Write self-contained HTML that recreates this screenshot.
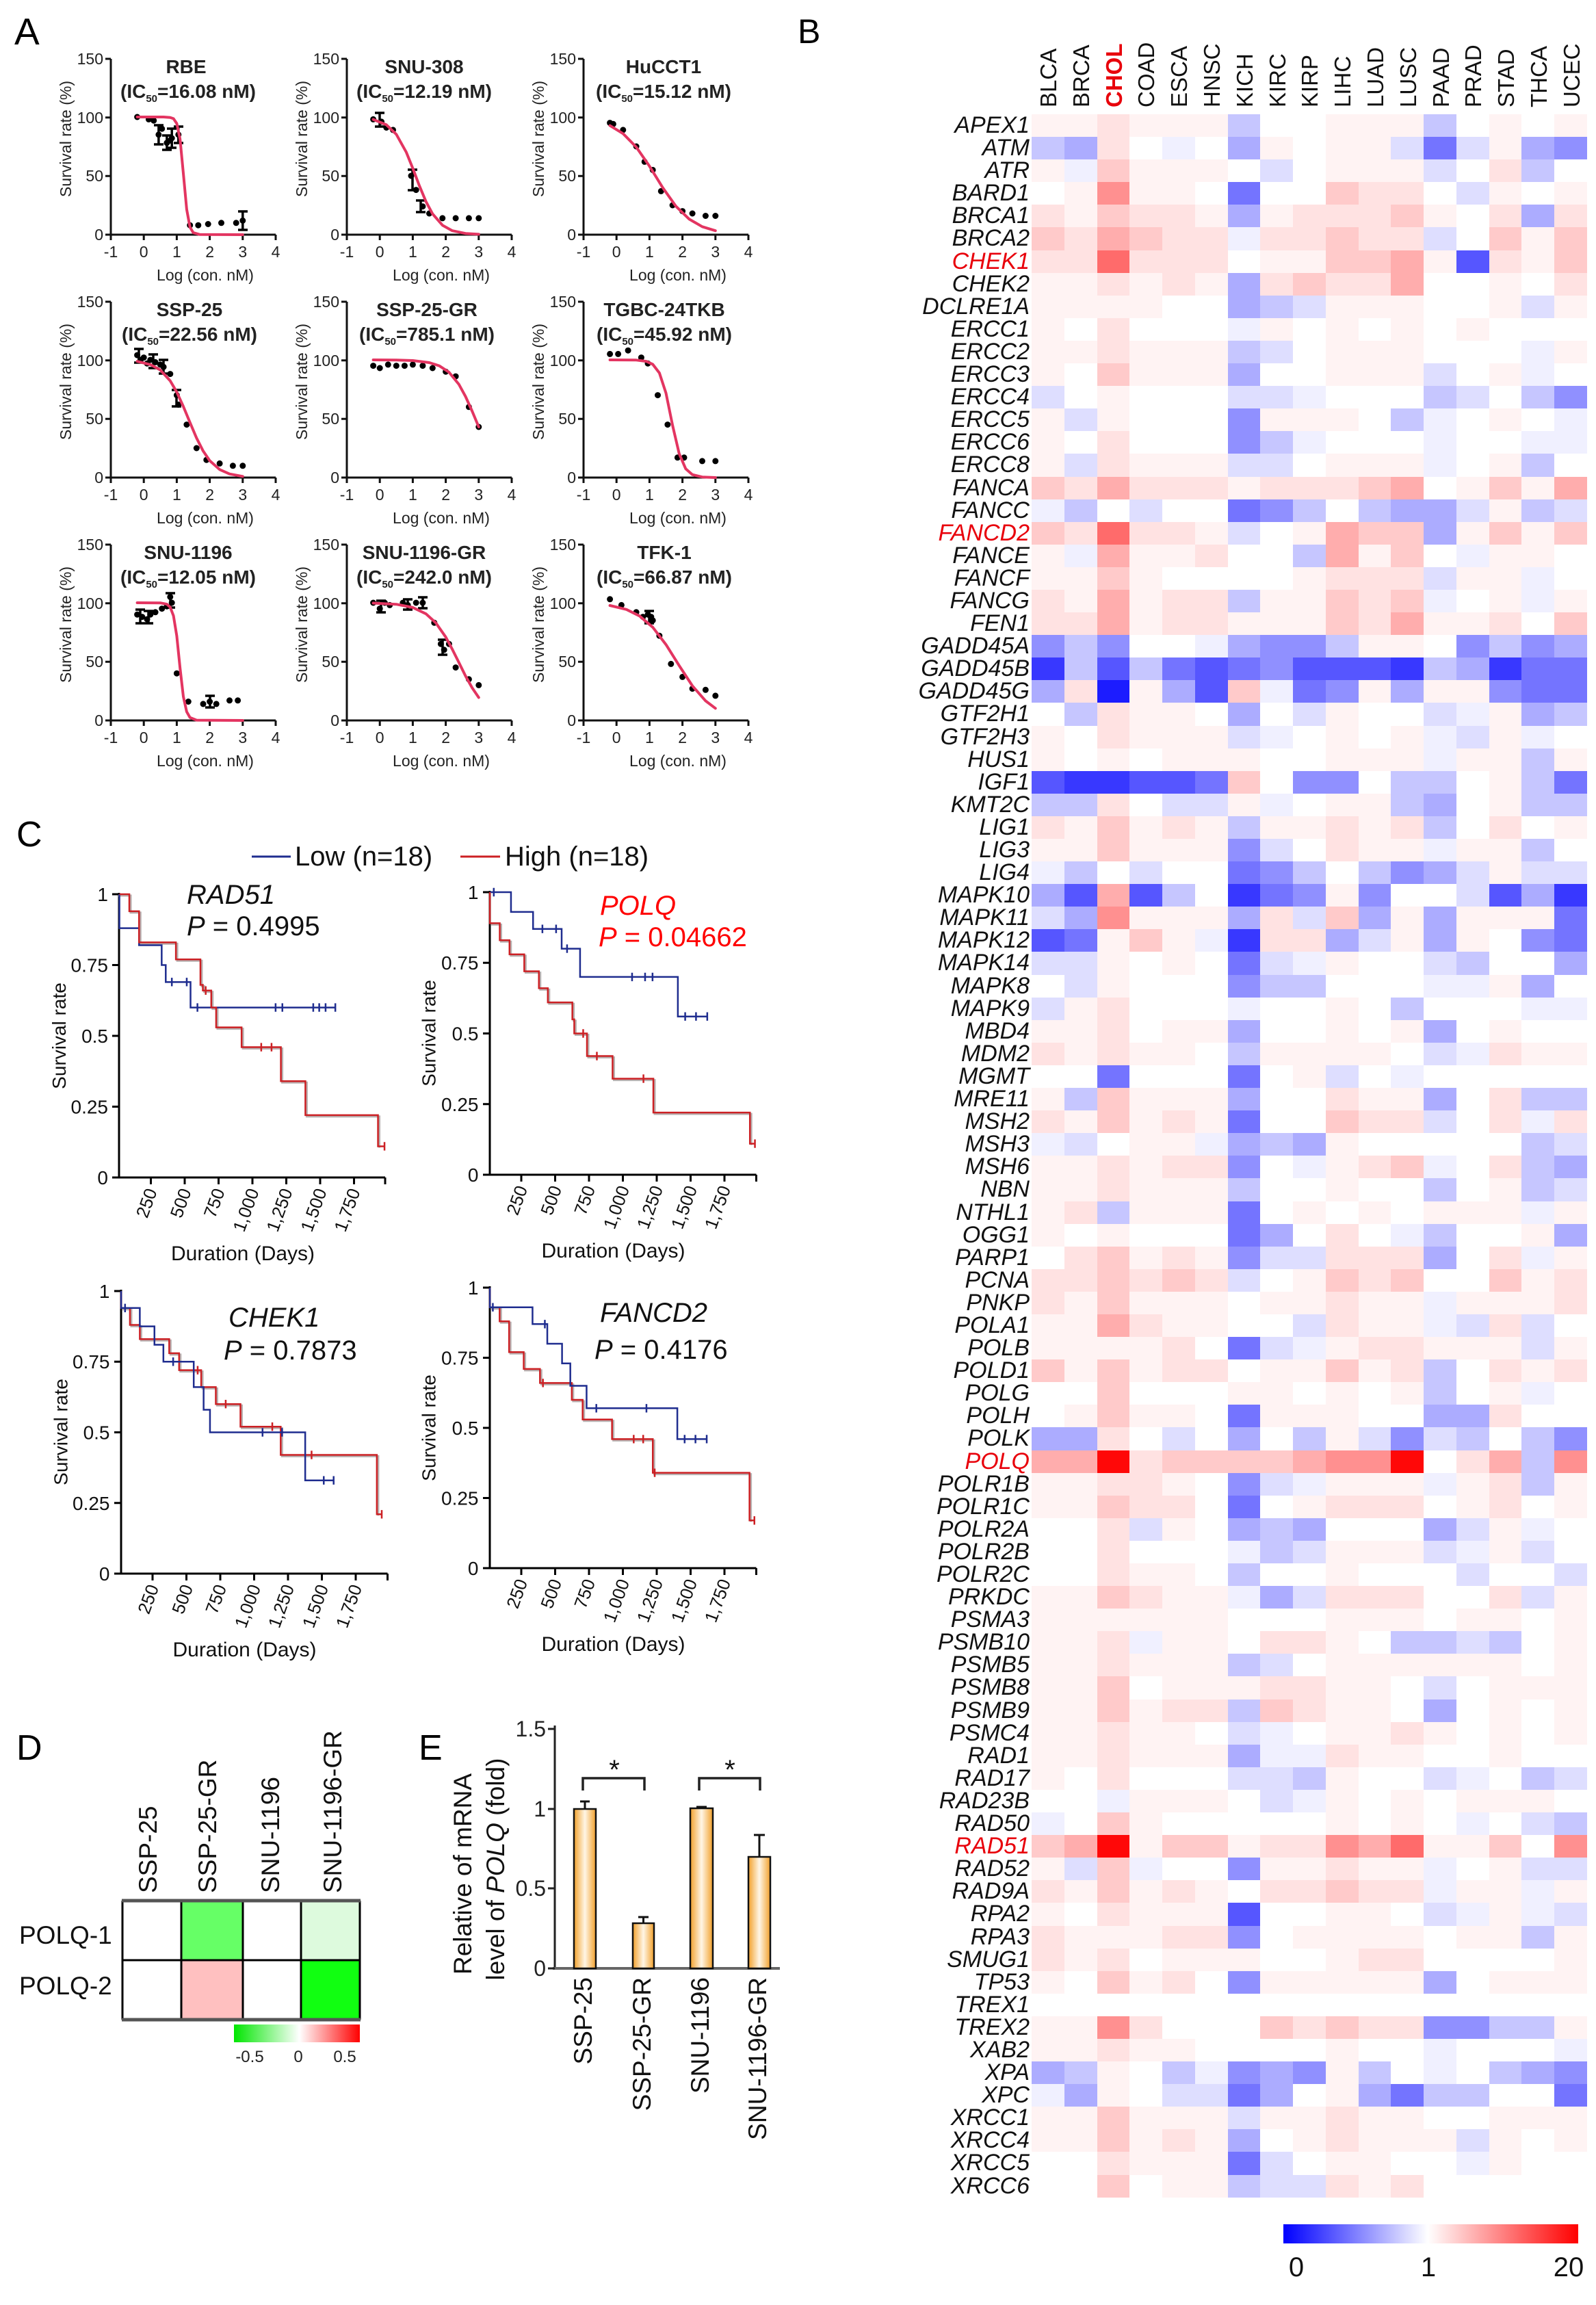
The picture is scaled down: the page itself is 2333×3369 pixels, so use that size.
<!DOCTYPE html>
<html><head><meta charset="utf-8"><style>
html,body{margin:0;padding:0;background:#fff}
body{width:2333px;height:3369px;position:relative;overflow:hidden;font-family:"Liberation Sans",Arial,sans-serif}
svg{position:absolute;left:0;top:0}
svg text{font-family:"Liberation Sans",Arial,sans-serif}
.ax{fill:none;stroke:#000;stroke-width:3}
.axA{fill:none;stroke:#111;stroke-width:3}
.tl{font-size:23px;fill:#222}
.tt{font-size:28px;font-weight:bold;fill:#222}
.cv{fill:none;stroke:#e33561;stroke-width:4;stroke-linejoin:round;stroke-linecap:round}
.dt{fill:none;stroke:#000;stroke-width:9;stroke-linecap:round}
.eb{fill:none;stroke:#000;stroke-width:3.5}
.km path{fill:none;vector-effect:non-scaling-stroke;stroke-width:2.5}
.km .bl{stroke:#1f2d8f}.km .rd{stroke:#cc2024}.km .sh{stroke:#b8b0b0;stroke-width:3}
.kt{font-size:28px;fill:#111}
.kx{font-size:26px;fill:#111}
#hm{position:absolute;left:1508px;top:167px;width:812px;height:3045px;border-collapse:collapse;table-layout:fixed;border-spacing:0}
#hm td{padding:0;border:0}
#hm tr{height:33.1px}
td[w]{background:#fff}td[a]{background:#fff3f3}td[b]{background:#ffe2e2}td[c]{background:#ffcaca}td[d]{background:#ffadad}td[e]{background:#ff9090}td[f]{background:#ff6b6b}td[g]{background:#ff0808}
td[p]{background:#f0f0ff}td[q]{background:#dedeff}td[r]{background:#c6c6ff}td[s]{background:#acacff}td[t]{background:#9090ff}td[u]{background:#7474ff}td[v]{background:#5656ff}td[x]{background:#3838ff}td[y]{background:#1c1cff}
#gl{position:absolute;left:1005px;top:167px;width:500px;text-align:right;font-size:34px;line-height:33.1px;font-style:italic;color:#111;white-space:nowrap}
#gl span{color:#e8000b}
</style></head><body>
<svg width="2333" height="3369" viewBox="0 0 2333 3369" xmlns="http://www.w3.org/2000/svg">
<defs>
<linearGradient id="cb" x1="0" x2="1" y1="0" y2="0"><stop offset="0" stop-color="#0000ff"/><stop offset="0.49" stop-color="#ffffff"/><stop offset="1" stop-color="#ff0000"/></linearGradient>
<linearGradient id="gb" x1="0" x2="1" y1="0" y2="0"><stop offset="0" stop-color="#00e600"/><stop offset="0.52" stop-color="#ffffff"/><stop offset="1" stop-color="#ff0000"/></linearGradient>
<linearGradient id="bar" x1="0" x2="1" y1="0" y2="0"><stop offset="0" stop-color="#f2a12c"/><stop offset="0.5" stop-color="#fff6e6"/><stop offset="1" stop-color="#f2a12c"/></linearGradient>
</defs>

<!-- Panel letters -->
<text x="21" y="65" font-size="55">A</text>
<text x="1166" y="63" font-size="50">B</text>
<text x="24" y="1237" font-size="52">C</text>
<text x="24" y="2572" font-size="52">D</text>
<text x="612" y="2572" font-size="52">E</text>

<!-- ============ PANEL A ============ -->
<!-- subplot 1 RBE -->
<g transform="translate(162,343)">
<path class="axA" d="M0 -257V0H241"/>
<path class="axA" d="M0 0h-8M0 -85.7h-8M0 -171.3h-8M0 -257h-8M0 0v8M48.2 0v8M96.4 0v8M144.6 0v8M192.8 0v8M241 0v8"/>
<g class="tl" text-anchor="end"><text x="-11" y="8">0</text><text x="-11" y="-78">50</text><text x="-11" y="-163">100</text><text x="-11" y="-249">150</text></g>
<g class="tl" text-anchor="middle"><text x="0" y="33">-1</text><text x="48.2" y="33">0</text><text x="96.4" y="33">1</text><text x="144.6" y="33">2</text><text x="192.8" y="33">3</text><text x="241" y="33">4</text></g>
<text class="tl" transform="translate(-58,-140) rotate(-90)" text-anchor="middle">Survival rate (%)</text>
<text class="tl" x="138" y="67" text-anchor="middle">Log (con. nM)</text>
<text class="tt" x="110" y="-236" text-anchor="middle">RBE</text>
<text class="tt" x="113" y="-200" text-anchor="middle">(IC<tspan font-size="15" dy="6">50</tspan><tspan dy="-6">=16.08 nM)</tspan></text>
<path class="eb" d="M69.9 -160V-132M63 -160h14M63 -132h14M81.9 -145V-124M75 -145h14M75 -124h14M89.2 -155V-127M82 -155h14M82 -127h14M98.8 -158V-134M92 -158h14M92 -134h14M192.8 -34V-7M186 -34h14M186 -7h14"/>
<path class="dt" d="M38.6 -172h0M55.4 -168.6h0M62.7 -166.8h0M69.9 -146.2h0M74.7 -154.8h0M81.9 -134.2h0M86.8 -137.6h0M89.2 -141h0M98.8 -146.2h0M115.7 -13.8h0M127.8 -13.8h0M142.2 -15.5h0M161.5 -17.2h0M183.2 -17.2h0M192.8 -20.6h0"/>
<polyline class="cv" points="38.6,-172 77.1,-172 86.8,-171.3 91.6,-169.6 96.4,-162.5 101.2,-139.7 106,-89.6 110.9,-37 115.7,-11 120.5,-2.9 130.1,-0.2 192.8,0"/>
</g>
<!-- subplot 2 SNU-308 -->
<g transform="translate(507,343)">
<path class="axA" d="M0 -257V0H241"/>
<path class="axA" d="M0 0h-8M0 -85.7h-8M0 -171.3h-8M0 -257h-8M0 0v8M48.2 0v8M96.4 0v8M144.6 0v8M192.8 0v8M241 0v8"/>
<g class="tl" text-anchor="end"><text x="-11" y="8">0</text><text x="-11" y="-78">50</text><text x="-11" y="-163">100</text><text x="-11" y="-249">150</text></g>
<g class="tl" text-anchor="middle"><text x="0" y="33">-1</text><text x="48.2" y="33">0</text><text x="96.4" y="33">1</text><text x="144.6" y="33">2</text><text x="192.8" y="33">3</text><text x="241" y="33">4</text></g>
<text class="tl" transform="translate(-58,-140) rotate(-90)" text-anchor="middle">Survival rate (%)</text>
<text class="tl" x="138" y="67" text-anchor="middle">Log (con. nM)</text>
<text class="tt" x="113" y="-236" text-anchor="middle">SNU-308</text>
<text class="tt" x="113" y="-200" text-anchor="middle">(IC<tspan font-size="15" dy="6">50</tspan><tspan dy="-6">=12.19 nM)</tspan></text>
<path class="eb" d="M48 -178V-158M41 -178h14M41 -158h14M96 -95V-65M89 -95h14M89 -65h14M108 -50V-33M101 -50h14M101 -33h14"/>
<path class="dt" d="M38.6 -168.6h0M50.6 -165.1h0M57.8 -156.5h0M67.5 -153.1h0M94 -86h0M101.2 -65.4h0M110.9 -41.3h0M120.5 -31h0M139.8 -24.1h0M159.1 -24.1h0M178.4 -24.1h0M192.8 -24.1h0"/>
<polyline class="cv" points="38.6,-168.4 57.8,-160.6 72.3,-146.7 86.8,-120.7 96.4,-97 106,-71.6 115.7,-48.3 125.3,-30.4 139.8,-13.8 154.2,-5.8 173.5,-1.8 192.8,-0.6"/>
</g>
<!-- subplot 3 HuCCT1 -->
<g transform="translate(853,343)">
<path class="axA" d="M0 -257V0H241"/>
<path class="axA" d="M0 0h-8M0 -85.7h-8M0 -171.3h-8M0 -257h-8M0 0v8M48.2 0v8M96.4 0v8M144.6 0v8M192.8 0v8M241 0v8"/>
<g class="tl" text-anchor="end"><text x="-11" y="8">0</text><text x="-11" y="-78">50</text><text x="-11" y="-163">100</text><text x="-11" y="-249">150</text></g>
<g class="tl" text-anchor="middle"><text x="0" y="33">-1</text><text x="48.2" y="33">0</text><text x="96.4" y="33">1</text><text x="144.6" y="33">2</text><text x="192.8" y="33">3</text><text x="241" y="33">4</text></g>
<text class="tl" transform="translate(-58,-140) rotate(-90)" text-anchor="middle">Survival rate (%)</text>
<text class="tl" x="138" y="67" text-anchor="middle">Log (con. nM)</text>
<text class="tt" x="117" y="-236" text-anchor="middle">HuCCT1</text>
<text class="tt" x="117" y="-200" text-anchor="middle">(IC<tspan font-size="15" dy="6">50</tspan><tspan dy="-6">=15.12 nM)</tspan></text>
<path class="dt" d="M38.6 -163.4h0M43.4 -161.7h0M57.8 -153.1h0M77.1 -129h0M89.2 -106.6h0M101.2 -94.6h0M113.3 -63.6h0M130.1 -43h0M144.6 -34.4h0M159.1 -31h0M178.4 -27.5h0M192.8 -27.5h0"/>
<polyline class="cv" points="38.6,-159.4 57.8,-147.7 77.1,-128 96.4,-100.1 115.7,-68.8 135,-41.6 154.2,-22.9 173.5,-11.7 192.8,-5.8"/>
</g>
<!-- subplot 4 SSP-25 -->
<g transform="translate(162,698)">
<path class="axA" d="M0 -257V0H241"/>
<path class="axA" d="M0 0h-8M0 -85.7h-8M0 -171.3h-8M0 -257h-8M0 0v8M48.2 0v8M96.4 0v8M144.6 0v8M192.8 0v8M241 0v8"/>
<g class="tl" text-anchor="end"><text x="-11" y="8">0</text><text x="-11" y="-78">50</text><text x="-11" y="-163">100</text><text x="-11" y="-249">150</text></g>
<g class="tl" text-anchor="middle"><text x="0" y="33">-1</text><text x="48.2" y="33">0</text><text x="96.4" y="33">1</text><text x="144.6" y="33">2</text><text x="192.8" y="33">3</text><text x="241" y="33">4</text></g>
<text class="tl" transform="translate(-58,-140) rotate(-90)" text-anchor="middle">Survival rate (%)</text>
<text class="tl" x="138" y="67" text-anchor="middle">Log (con. nM)</text>
<text class="tt" x="115" y="-236" text-anchor="middle">SSP-25</text>
<text class="tt" x="115" y="-200" text-anchor="middle">(IC<tspan font-size="15" dy="6">50</tspan><tspan dy="-6">=22.56 nM)</tspan></text>
<path class="eb" d="M41 -188V-168M34 -188h14M34 -168h14M62 -180V-160M55 -180h14M55 -160h14M77 -172V-152M70 -172h14M70 -152h14M96 -128V-104M89 -128h14M89 -104h14"/>
<path class="dt" d="M38.6 -178.9h0M43.4 -172h0M48.2 -175.4h0M53 -166.8h0M57.8 -172h0M65.1 -168.6h0M72.3 -165.1h0M77.1 -161.7h0M86.8 -151.4h0M96.4 -120.4h0M98.8 -106.6h0M110.9 -77.4h0M125.3 -43h0M139.8 -25.8h0M159.1 -20.6h0M178.4 -17.2h0M192.8 -17.2h0"/>
<polyline class="cv" points="38.6,-169.8 57.8,-165.1 72.3,-157.2 86.8,-141.4 96.4,-124.9 106,-103.9 115.7,-80.5 125.3,-57.8 135,-38.7 144.6,-24.6 159.1,-11.7 173.5,-5.3 192.8,-1.7"/>
</g>
<!-- subplot 5 SSP-25-GR -->
<g transform="translate(507,698)">
<path class="axA" d="M0 -257V0H241"/>
<path class="axA" d="M0 0h-8M0 -85.7h-8M0 -171.3h-8M0 -257h-8M0 0v8M48.2 0v8M96.4 0v8M144.6 0v8M192.8 0v8M241 0v8"/>
<g class="tl" text-anchor="end"><text x="-11" y="8">0</text><text x="-11" y="-78">50</text><text x="-11" y="-163">100</text><text x="-11" y="-249">150</text></g>
<g class="tl" text-anchor="middle"><text x="0" y="33">-1</text><text x="48.2" y="33">0</text><text x="96.4" y="33">1</text><text x="144.6" y="33">2</text><text x="192.8" y="33">3</text><text x="241" y="33">4</text></g>
<text class="tl" transform="translate(-58,-140) rotate(-90)" text-anchor="middle">Survival rate (%)</text>
<text class="tl" x="138" y="67" text-anchor="middle">Log (con. nM)</text>
<text class="tt" x="117" y="-236" text-anchor="middle">SSP-25-GR</text>
<text class="tt" x="117" y="-200" text-anchor="middle">(IC<tspan font-size="15" dy="6">50</tspan><tspan dy="-6">=785.1 nM)</tspan></text>
<path class="dt" d="M38.6 -163.4h0M48.2 -160h0M60.3 -165.1h0M72.3 -163.4h0M84.4 -163.4h0M96.4 -165.1h0M110.9 -163.4h0M125.3 -160h0M144.6 -154.8h0M159.1 -147.9h0M178.4 -103.2h0M192.8 -74h0"/>
<polyline class="cv" points="38.6,-172 72.3,-171.7 96.4,-171 120.5,-168 135,-163.4 149.4,-153.9 163.9,-136.1 173.5,-118.5 183.2,-97 192.8,-74"/>
</g>
<!-- subplot 6 TGBC-24TKB -->
<g transform="translate(853,698)">
<path class="axA" d="M0 -257V0H241"/>
<path class="axA" d="M0 0h-8M0 -85.7h-8M0 -171.3h-8M0 -257h-8M0 0v8M48.2 0v8M96.4 0v8M144.6 0v8M192.8 0v8M241 0v8"/>
<g class="tl" text-anchor="end"><text x="-11" y="8">0</text><text x="-11" y="-78">50</text><text x="-11" y="-163">100</text><text x="-11" y="-249">150</text></g>
<g class="tl" text-anchor="middle"><text x="0" y="33">-1</text><text x="48.2" y="33">0</text><text x="96.4" y="33">1</text><text x="144.6" y="33">2</text><text x="192.8" y="33">3</text><text x="241" y="33">4</text></g>
<text class="tl" transform="translate(-58,-140) rotate(-90)" text-anchor="middle">Survival rate (%)</text>
<text class="tl" x="138" y="67" text-anchor="middle">Log (con. nM)</text>
<text class="tt" x="118" y="-236" text-anchor="middle">TGBC-24TKB</text>
<text class="tt" x="118" y="-200" text-anchor="middle">(IC<tspan font-size="15" dy="6">50</tspan><tspan dy="-6">=45.92 nM)</tspan></text>
<path class="dt" d="M38.6 -180.6h0M50.6 -180.6h0M65.1 -185.8h0M84.4 -175.4h0M94 -166.8h0M108.5 -120.4h0M122.9 -77.4h0M137.4 -29.2h0M147 -29.2h0M173.5 -24.1h0M192.8 -24.1h0"/>
<polyline class="cv" points="38.6,-172 77.1,-171.7 91.6,-169.9 101.2,-165.5 110.9,-152.9 120.5,-123.5 130.1,-76.5 139.8,-34.9 149.4,-12.7 159.1,-4.3 173.5,-0.8 192.8,0"/>
</g>
<!-- subplot 7 SNU-1196 -->
<g transform="translate(162,1053)">
<path class="axA" d="M0 -257V0H241"/>
<path class="axA" d="M0 0h-8M0 -85.7h-8M0 -171.3h-8M0 -257h-8M0 0v8M48.2 0v8M96.4 0v8M144.6 0v8M192.8 0v8M241 0v8"/>
<g class="tl" text-anchor="end"><text x="-11" y="8">0</text><text x="-11" y="-78">50</text><text x="-11" y="-163">100</text><text x="-11" y="-249">150</text></g>
<g class="tl" text-anchor="middle"><text x="0" y="33">-1</text><text x="48.2" y="33">0</text><text x="96.4" y="33">1</text><text x="144.6" y="33">2</text><text x="192.8" y="33">3</text><text x="241" y="33">4</text></g>
<text class="tl" transform="translate(-58,-140) rotate(-90)" text-anchor="middle">Survival rate (%)</text>
<text class="tl" x="138" y="67" text-anchor="middle">Log (con. nM)</text>
<text class="tt" x="113" y="-236" text-anchor="middle">SNU-1196</text>
<text class="tt" x="113" y="-200" text-anchor="middle">(IC<tspan font-size="15" dy="6">50</tspan><tspan dy="-6">=12.05 nM)</tspan></text>
<path class="eb" d="M43 -162V-142M36 -162h14M36 -142h14M55 -160V-142M48 -160h14M48 -142h14M87 -186V-165M80 -186h14M80 -165h14M145 -36V-19M138 -36h14M138 -19h14"/>
<path class="dt" d="M38.6 -154.8h0M45.8 -151.4h0M53 -147.9h0M57.8 -154.8h0M65.1 -158.2h0M74.7 -163.4h0M81.9 -166.8h0M86.8 -180.6h0M89.2 -172h0M96.4 -68.8h0M113.3 -27.5h0M135 -24.1h0M144.6 -27.5h0M154.2 -24.1h0M173.5 -29.2h0M185.6 -29.2h0"/>
<polyline class="cv" points="38.6,-172 72.3,-171.8 81.9,-169.9 86.8,-165.5 91.6,-152.9 96.4,-123.5 101.2,-76.5 106,-34.9 110.9,-12.7 115.7,-4.3 125.3,-0.4 192.8,0"/>
</g>
<!-- subplot 8 SNU-1196-GR -->
<g transform="translate(507,1053)">
<path class="axA" d="M0 -257V0H241"/>
<path class="axA" d="M0 0h-8M0 -85.7h-8M0 -171.3h-8M0 -257h-8M0 0v8M48.2 0v8M96.4 0v8M144.6 0v8M192.8 0v8M241 0v8"/>
<g class="tl" text-anchor="end"><text x="-11" y="8">0</text><text x="-11" y="-78">50</text><text x="-11" y="-163">100</text><text x="-11" y="-249">150</text></g>
<g class="tl" text-anchor="middle"><text x="0" y="33">-1</text><text x="48.2" y="33">0</text><text x="96.4" y="33">1</text><text x="144.6" y="33">2</text><text x="192.8" y="33">3</text><text x="241" y="33">4</text></g>
<text class="tl" transform="translate(-58,-140) rotate(-90)" text-anchor="middle">Survival rate (%)</text>
<text class="tl" x="138" y="67" text-anchor="middle">Log (con. nM)</text>
<text class="tt" x="113" y="-236" text-anchor="middle">SNU-1196-GR</text>
<text class="tt" x="113" y="-200" text-anchor="middle">(IC<tspan font-size="15" dy="6">50</tspan><tspan dy="-6">=242.0 nM)</tspan></text>
<path class="eb" d="M50 -175V-158M43 -175h14M43 -158h14M89 -177V-162M82 -177h14M82 -162h14M111 -180V-164M104 -180h14M104 -164h14M140 -118V-96M133 -118h14M133 -96h14"/>
<path class="dt" d="M38.6 -172h0M48.2 -163.4h0M55.4 -172h0M62.7 -168.6h0M81.9 -172h0M89.2 -168.6h0M101.2 -172h0M110.9 -172h0M127.8 -142.8h0M137.4 -111.8h0M142.2 -103.2h0M149.4 -111.8h0M159.1 -77.4h0M178.4 -60.2h0M192.8 -51.6h0"/>
<polyline class="cv" points="38.6,-171.5 72.3,-169.8 96.4,-165.1 115.7,-155.8 130.1,-142.6 144.6,-121.8 154.2,-103.9 163.9,-84.5 173.5,-65 183.2,-47.6 192.8,-33.5"/>
</g>
<!-- subplot 9 TFK-1 -->
<g transform="translate(853,1053)">
<path class="axA" d="M0 -257V0H241"/>
<path class="axA" d="M0 0h-8M0 -85.7h-8M0 -171.3h-8M0 -257h-8M0 0v8M48.2 0v8M96.4 0v8M144.6 0v8M192.8 0v8M241 0v8"/>
<g class="tl" text-anchor="end"><text x="-11" y="8">0</text><text x="-11" y="-78">50</text><text x="-11" y="-163">100</text><text x="-11" y="-249">150</text></g>
<g class="tl" text-anchor="middle"><text x="0" y="33">-1</text><text x="48.2" y="33">0</text><text x="96.4" y="33">1</text><text x="144.6" y="33">2</text><text x="192.8" y="33">3</text><text x="241" y="33">4</text></g>
<text class="tl" transform="translate(-58,-140) rotate(-90)" text-anchor="middle">Survival rate (%)</text>
<text class="tl" x="138" y="67" text-anchor="middle">Log (con. nM)</text>
<text class="tt" x="118" y="-236" text-anchor="middle">TFK-1</text>
<text class="tt" x="118" y="-200" text-anchor="middle">(IC<tspan font-size="15" dy="6">50</tspan><tspan dy="-6">=66.87 nM)</tspan></text>
<path class="eb" d="M96 -160V-142M89 -160h14M89 -142h14"/>
<path class="dt" d="M38.6 -177.2h0M55.4 -168.6h0M77.1 -158.2h0M86.8 -151.4h0M94 -154.8h0M98.8 -151.4h0M101.2 -146.2h0M110.9 -123.8h0M127.8 -82.6h0M144.6 -63.6h0M159.1 -46.4h0M178.4 -44.7h0M192.8 -36.1h0"/>
<polyline class="cv" points="38.6,-168 62.7,-162.2 81.9,-152.7 101.2,-136.2 120.5,-110.9 139.8,-80.2 159.1,-50.6 178.4,-28.6 192.8,-17.7"/>
</g>

<!-- ============ PANEL C ============ -->
<path d="M368 1252H425" stroke="#1f2d8f" stroke-width="3"/>
<text x="431" y="1265" font-size="40" fill="#111">Low (n=18)</text>
<path d="M673 1252H731" stroke="#cc2024" stroke-width="3"/>
<text x="738" y="1265" font-size="40" fill="#111">High (n=18)</text>

<!-- plot 1 RAD51 -->
<g transform="translate(171,1721)">
<path class="ax" d="M3 -416V0H392"/>
<path class="ax" d="M3 0h-10M3 -103.5h-10M3 -207h-10M3 -310.5h-10M3 -414h-10M49.5 0v10M99 0v10M148.5 0v10M198 0v10M247.5 0v10M297 0v10M346.5 0v10M392 0v10"/>
<g class="kt" text-anchor="end"><text x="-13" y="10">0</text><text x="-13" y="-93.5">0.25</text><text x="-13" y="-197">0.5</text><text x="-13" y="-300.5">0.75</text><text x="-13" y="-404">1</text></g>
<g class="kx" text-anchor="end"><text transform="translate(59,20) rotate(-70)">250</text><text transform="translate(109,20) rotate(-70)">500</text><text transform="translate(158,20) rotate(-70)">750</text><text transform="translate(208,20) rotate(-70)">1,000</text><text transform="translate(257,20) rotate(-70)">1,250</text><text transform="translate(307,20) rotate(-70)">1,500</text><text transform="translate(356,20) rotate(-70)">1,750</text></g>
<text class="kt" font-size="30" transform="translate(-75,-207) rotate(-90)" text-anchor="middle">Survival rate</text>
<text font-size="30" fill="#111" x="184" y="121" text-anchor="middle">Duration (Days)</text>
<g class="km" transform="translate(2,2) scale(0.198,-414)"><path class="sh" d="M0 1H91V0.94H163V0.83H435V0.77H616V0.68H634V0.66H696V0.6H732V0.53H920V0.46H1210V0.34H1391V0.22H1927V0.11"/></g>
<g class="km" transform="scale(0.198,-414)">
<path class="bl" d="M18 1V0.94H18V0.88H163V0.82H330V0.75H360V0.69H543V0.6H1612"/>
<path class="bl" d="M405 0.675V0.705M515 0.675V0.705M594 0.585V0.615M1171 0.585V0.615M1221 0.585V0.615M1449 0.585V0.615M1493 0.585V0.615M1540 0.585V0.615M1612 0.585V0.615"/>
<path class="rd" d="M18 1H91V0.94H163V0.83H435V0.77H616V0.68H634V0.66H696V0.6H732V0.53H920V0.46H1210V0.34H1391V0.22H1927V0.11H1975"/>
<path class="rd" d="M655 0.645V0.675M1065 0.445V0.475M1141 0.445V0.475M1975 0.095V0.125"/>
</g>
</g>
<text x="273" y="1321" font-size="40" font-style="italic" fill="#111">RAD51</text>
<text x="273" y="1367" font-size="40" fill="#111"><tspan font-style="italic">P</tspan> = 0.4995</text>

<!-- plot 2 POLQ -->
<g transform="translate(712.5,1717)">
<path class="ax" d="M3.5 -415V0H393"/>
<path class="ax" d="M3.5 0h-10M3.5 -103.25h-10M3.5 -206.5h-10M3.5 -309.75h-10M3.5 -413h-10M49.5 0v10M99 0v10M148.5 0v10M198 0v10M247.5 0v10M297 0v10M346.5 0v10M393 0v10"/>
<g class="kt" text-anchor="end"><text x="-13" y="10">0</text><text x="-13" y="-93">0.25</text><text x="-13" y="-196.5">0.5</text><text x="-13" y="-300">0.75</text><text x="-13" y="-403">1</text></g>
<g class="kx" text-anchor="end"><text transform="translate(59,20) rotate(-70)">250</text><text transform="translate(109,20) rotate(-70)">500</text><text transform="translate(158,20) rotate(-70)">750</text><text transform="translate(208,20) rotate(-70)">1,000</text><text transform="translate(257,20) rotate(-70)">1,250</text><text transform="translate(307,20) rotate(-70)">1,500</text><text transform="translate(356,20) rotate(-70)">1,750</text></g>
<text class="kt" font-size="30" transform="translate(-76,-207) rotate(-90)" text-anchor="middle">Survival rate</text>
<text font-size="30" fill="#111" x="184" y="121" text-anchor="middle">Duration (Days)</text>
<g class="km" transform="translate(2,2) scale(0.198,-413)"><path class="sh" d="M18 0.89H91V0.83H163V0.78H272V0.72H380V0.66H446V0.61H627V0.55H641V0.5H735V0.42H924V0.34H1225V0.22H1938V0.11"/></g>
<g class="km" transform="scale(0.198,-413)">
<path class="bl" d="M18 1H174V0.93H337V0.87H548V0.8H684V0.7H1406V0.56H1623"/>
<path class="bl" d="M47 0.985V1.015M406 0.855V0.885M507 0.855V0.885M588 0.785V0.815M1068 0.685V0.715M1164 0.685V0.715M1219 0.685V0.715M1460 0.545V0.575M1540 0.545V0.575M1623 0.545V0.575"/>
<path class="rd" d="M18 1V0.89H91V0.83H163V0.78H272V0.72H380V0.66H446V0.61H627V0.55H641V0.5H735V0.42H924V0.34H1225V0.22H1938V0.11H1975"/>
<path class="rd" d="M707 0.485V0.515M808 0.405V0.435M1152 0.325V0.355M1975 0.095V0.125"/>
</g>
</g>
<text x="877" y="1337" font-size="40" font-style="italic" fill="#ff0000">POLQ</text>
<text x="875" y="1383" font-size="40" fill="#ff0000"><tspan font-style="italic">P</tspan> = 0.04662</text>

<!-- plot 3 CHEK1 -->
<g transform="translate(173.5,2300)">
<path class="ax" d="M3.5 -415V0H393"/>
<path class="ax" d="M3.5 0h-10M3.5 -103.25h-10M3.5 -206.5h-10M3.5 -309.75h-10M3.5 -413h-10M49.5 0v10M99 0v10M148.5 0v10M198 0v10M247.5 0v10M297 0v10M346.5 0v10M393 0v10"/>
<g class="kt" text-anchor="end"><text x="-13" y="10">0</text><text x="-13" y="-93">0.25</text><text x="-13" y="-196.5">0.5</text><text x="-13" y="-300">0.75</text><text x="-13" y="-403">1</text></g>
<g class="kx" text-anchor="end"><text transform="translate(59,20) rotate(-70)">250</text><text transform="translate(109,20) rotate(-70)">500</text><text transform="translate(158,20) rotate(-70)">750</text><text transform="translate(208,20) rotate(-70)">1,000</text><text transform="translate(257,20) rotate(-70)">1,250</text><text transform="translate(307,20) rotate(-70)">1,500</text><text transform="translate(356,20) rotate(-70)">1,750</text></g>
<text class="kt" font-size="30" transform="translate(-75,-207) rotate(-90)" text-anchor="middle">Survival rate</text>
<text font-size="30" fill="#111" x="184" y="121" text-anchor="middle">Duration (Days)</text>
<g class="km" transform="translate(2,2) scale(0.198,-413)"><path class="sh" d="M18 0.94H83V0.88H156V0.83H373V0.78H446V0.72H609V0.66H717V0.6H899V0.52H1196V0.42H1906V0.21"/></g>
<g class="km" transform="scale(0.198,-413)">
<path class="rd" d="M18 1V0.94H83V0.88H156V0.83H373V0.78H446V0.72H609V0.66H717V0.6H899V0.52H1196V0.42H1906V0.21H1942"/>
<path class="rd" d="M583 0.705V0.735M790 0.585V0.615M1134 0.505V0.535M1424 0.405V0.435M1942 0.195V0.225"/>
<path class="bl" d="M18 1V0.94H156V0.875H264V0.81H330V0.75H554V0.66H627V0.58H674V0.5H1377V0.33H1587"/>
<path class="bl" d="M47 0.925V0.955M402 0.735V0.765M1062 0.485V0.515M1206 0.485V0.515M1514 0.315V0.345M1587 0.315V0.345"/>
</g>
</g>
<text x="334" y="1939" font-size="40" font-style="italic" fill="#111">CHEK1</text>
<text x="327" y="1987" font-size="40" fill="#111"><tspan font-style="italic">P</tspan> = 0.7873</text>

<!-- plot 4 FANCD2 -->
<g transform="translate(712.5,2292)">
<path class="ax" d="M3.5 -412V0H393"/>
<path class="ax" d="M3.5 0h-10M3.5 -102.5h-10M3.5 -205h-10M3.5 -307.5h-10M3.5 -410h-10M49.5 0v10M99 0v10M148.5 0v10M198 0v10M247.5 0v10M297 0v10M346.5 0v10M393 0v10"/>
<g class="kt" text-anchor="end"><text x="-13" y="10">0</text><text x="-13" y="-92.5">0.25</text><text x="-13" y="-195">0.5</text><text x="-13" y="-297.5">0.75</text><text x="-13" y="-400">1</text></g>
<g class="kx" text-anchor="end"><text transform="translate(59,20) rotate(-70)">250</text><text transform="translate(109,20) rotate(-70)">500</text><text transform="translate(158,20) rotate(-70)">750</text><text transform="translate(208,20) rotate(-70)">1,000</text><text transform="translate(257,20) rotate(-70)">1,250</text><text transform="translate(307,20) rotate(-70)">1,500</text><text transform="translate(356,20) rotate(-70)">1,750</text></g>
<text class="kt" font-size="30" transform="translate(-76,-205) rotate(-90)" text-anchor="middle">Survival rate</text>
<text font-size="30" fill="#111" x="184" y="121" text-anchor="middle">Duration (Days)</text>
<g class="km" transform="translate(2,2) scale(0.198,-410)"><path class="sh" d="M18 0.93H90V0.88H160V0.77H268V0.71H388V0.66H623V0.6H703V0.53H920V0.46H1221V0.34H1935V0.17"/></g>
<g class="km" transform="scale(0.198,-410)">
<path class="rd" d="M18 1V0.93H90V0.88H160V0.77H268V0.71H388V0.66H623V0.6H703V0.53H920V0.46H1221V0.34H1935V0.17H1971"/>
<path class="rd" d="M410 0.645V0.675M1080 0.445V0.475M1150 0.445V0.475M1235 0.325V0.355M1971 0.155V0.185"/>
<path class="bl" d="M18 1V0.93H333V0.87H442V0.8H551V0.73H612V0.65H732V0.57H1402V0.46H1619"/>
<path class="bl" d="M40 0.915V0.945M424 0.855V0.885M804 0.555V0.585M1174 0.555V0.585M1456 0.445V0.475M1536 0.445V0.475M1619 0.445V0.475"/>
</g>
</g>
<text x="877" y="1932" font-size="40" font-style="italic" fill="#111">FANCD2</text>
<text x="869" y="1986" font-size="40" fill="#111"><tspan font-style="italic">P</tspan> = 0.4176</text>

<!-- ============ PANEL D ============ -->
<g font-size="37" fill="#111">
<text transform="translate(229,2767) rotate(-90)">SSP-25</text>
<text transform="translate(316,2767) rotate(-90)">SSP-25-GR</text>
<text transform="translate(408,2767) rotate(-90)">SNU-1196</text>
<text transform="translate(499,2767) rotate(-90)">SNU-1196-GR</text>
<text x="28" y="2841">POLQ-1</text>
<text x="28" y="2915">POLQ-2</text>
</g>
<rect x="265" y="2778" width="90" height="87" fill="#66ff66"/>
<rect x="440" y="2778" width="86" height="87" fill="#ddfadd"/>
<rect x="265" y="2865" width="90" height="87" fill="#ffc0c0"/>
<rect x="440" y="2865" width="86" height="87" fill="#11ff11"/>
<path d="M179 2778V2952M265 2778V2952M355 2778V2952M440 2778V2952M526 2778V2952M179 2865H526" stroke="#000" stroke-width="3" fill="none"/>
<path d="M178 2778H527M178 2952H527" stroke="#555" stroke-width="5" fill="none"/>
<rect x="342" y="2959" width="184" height="26" fill="url(#gb)"/>
<g font-size="24" fill="#222" text-anchor="middle"><text x="365" y="3014">-0.5</text><text x="436" y="3014">0</text><text x="504" y="3014">0.5</text></g>

<!-- ============ PANEL E ============ -->
<path d="M811 2522V2877" stroke="#222" stroke-width="3" fill="none"/>
<path d="M808 2877H1140" stroke="#666" stroke-width="4" fill="none"/>
<path d="M811 2877h-10M811 2760h-10M811 2644h-10M811 2527h-10" stroke="#222" stroke-width="3"/>
<g font-size="32" fill="#222" text-anchor="end"><text x="798" y="2888">0</text><text x="798" y="2771">0.5</text><text x="798" y="2655">1</text><text x="798" y="2538">1.5</text></g>
<g font-size="37" fill="#111" text-anchor="middle">
<text transform="translate(689,2739) rotate(-90)">Relative of mRNA</text>
<text transform="translate(737,2732) rotate(-90)">level of <tspan font-style="italic">POLQ</tspan> (fold)</text>
</g>
<g stroke="#111" stroke-width="2.5">
<rect x="839" y="2644" width="32" height="233" fill="url(#bar)"/>
<rect x="925" y="2811" width="31" height="66" fill="url(#bar)"/>
<rect x="1009" y="2643" width="33" height="234" fill="url(#bar)"/>
<rect x="1094" y="2714" width="32" height="163" fill="url(#bar)"/>
</g>
<path d="M855 2644V2633M848 2633h14M940.5 2811V2802M933 2802h15M1025.5 2643V2641M1018 2641h15M1110 2714V2682M1102 2682h16" stroke="#111" stroke-width="3" fill="none"/>
<path d="M852 2617V2599H942V2617M1022 2617V2599H1111V2617" stroke="#222" stroke-width="3.5" fill="none"/>
<g font-size="40" fill="#111" text-anchor="middle"><text x="898" y="2600">*</text><text x="1067" y="2600">*</text></g>
<g font-size="37" fill="#111" text-anchor="end">
<text transform="translate(865,2890) rotate(-90)">SSP-25</text>
<text transform="translate(951,2890) rotate(-90)">SSP-25-GR</text>
<text transform="translate(1036,2890) rotate(-90)">SNU-1196</text>
<text transform="translate(1120,2890) rotate(-90)">SNU-1196-GR</text>
</g>

<!-- ============ PANEL B headers + colorbar ============ -->
<g font-size="33" fill="#111">
<text transform="translate(1544,157) rotate(-90)">BLCA</text>
<text transform="translate(1592,157) rotate(-90)">BRCA</text>
<text transform="translate(1640,157) rotate(-90)" fill="#e8000b" font-weight="bold">CHOL</text>
<text transform="translate(1687,157) rotate(-90)">COAD</text>
<text transform="translate(1735,157) rotate(-90)">ESCA</text>
<text transform="translate(1783,157) rotate(-90)">HNSC</text>
<text transform="translate(1831,157) rotate(-90)">KICH</text>
<text transform="translate(1879,157) rotate(-90)">KIRC</text>
<text transform="translate(1926,157) rotate(-90)">KIRP</text>
<text transform="translate(1974,157) rotate(-90)">LIHC</text>
<text transform="translate(2022,157) rotate(-90)">LUAD</text>
<text transform="translate(2070,157) rotate(-90)">LUSC</text>
<text transform="translate(2118,157) rotate(-90)">PAAD</text>
<text transform="translate(2165,157) rotate(-90)">PRAD</text>
<text transform="translate(2213,157) rotate(-90)">STAD</text>
<text transform="translate(2261,157) rotate(-90)">THCA</text>
<text transform="translate(2309,157) rotate(-90)">UCEC</text>
</g>
<rect x="1876" y="3251" width="431" height="28" fill="url(#cb)"/>
<g font-size="40" fill="#111" text-anchor="middle"><text x="1895" y="3327">0</text><text x="2088" y="3327">1</text><text x="2293" y="3327">20</text></g>
</svg>

<div id="gl">APEX1<br>ATM<br>ATR<br>BARD1<br>BRCA1<br>BRCA2<br><span>CHEK1</span><br>CHEK2<br>DCLRE1A<br>ERCC1<br>ERCC2<br>ERCC3<br>ERCC4<br>ERCC5<br>ERCC6<br>ERCC8<br>FANCA<br>FANCC<br><span>FANCD2</span><br>FANCE<br>FANCF<br>FANCG<br>FEN1<br>GADD45A<br>GADD45B<br>GADD45G<br>GTF2H1<br>GTF2H3<br>HUS1<br>IGF1<br>KMT2C<br>LIG1<br>LIG3<br>LIG4<br>MAPK10<br>MAPK11<br>MAPK12<br>MAPK14<br>MAPK8<br>MAPK9<br>MBD4<br>MDM2<br>MGMT<br>MRE11<br>MSH2<br>MSH3<br>MSH6<br>NBN<br>NTHL1<br>OGG1<br>PARP1<br>PCNA<br>PNKP<br>POLA1<br>POLB<br>POLD1<br>POLG<br>POLH<br>POLK<br><span>POLQ</span><br>POLR1B<br>POLR1C<br>POLR2A<br>POLR2B<br>POLR2C<br>PRKDC<br>PSMA3<br>PSMB10<br>PSMB5<br>PSMB8<br>PSMB9<br>PSMC4<br>RAD1<br>RAD17<br>RAD23B<br>RAD50<br><span>RAD51</span><br>RAD52<br>RAD9A<br>RPA2<br>RPA3<br>SMUG1<br>TP53<br>TREX1<br>TREX2<br>XAB2<br>XPA<br>XPC<br>XRCC1<br>XRCC4<br>XRCC5<br>XRCC6</div>

<table id="hm">
<tr><td a><td a><td b><td a><td a><td a><td r><td w><td w><td a><td a><td a><td r><td w><td a><td w><td a>
<tr><td r><td s><td b><td w><td p><td w><td s><td a><td w><td a><td a><td q><td u><td q><td a><td s><td t>
<tr><td a><td p><td c><td a><td a><td a><td w><td q><td w><td a><td a><td a><td q><td w><td b><td r><td w>
<tr><td w><td a><td e><td a><td a><td w><td u><td w><td w><td c><td b><td b><td w><td q><td a><td w><td a>
<tr><td b><td a><td c><td b><td b><td a><td s><td a><td b><td b><td b><td c><td a><td w><td b><td s><td b>
<tr><td c><td b><td d><td c><td b><td b><td p><td b><td b><td c><td b><td b><td q><td w><td c><td a><td c>
<tr><td b><td b><td f><td b><td b><td b><td w><td a><td a><td c><td c><td d><td a><td v><td b><td a><td c>
<tr><td a><td a><td b><td a><td b><td a><td s><td b><td c><td b><td b><td d><td w><td w><td a><td w><td b>
<tr><td a><td a><td a><td a><td w><td w><td s><td r><td q><td a><td a><td a><td w><td w><td a><td q><td a>
<tr><td a><td w><td b><td w><td w><td w><td p><td a><td w><td a><td w><td a><td w><td a><td w><td w><td w>
<tr><td a><td a><td b><td a><td a><td a><td r><td q><td w><td a><td a><td a><td w><td w><td w><td p><td a>
<tr><td a><td w><td c><td a><td a><td a><td s><td w><td w><td a><td a><td a><td q><td w><td a><td p><td w>
<tr><td q><td w><td a><td w><td w><td w><td q><td q><td p><td w><td w><td w><td r><td q><td w><td r><td t>
<tr><td a><td q><td a><td w><td w><td w><td t><td a><td a><td a><td w><td r><td p><td w><td a><td w><td p>
<tr><td a><td w><td b><td w><td w><td w><td t><td r><td p><td w><td w><td w><td p><td w><td w><td p><td p>
<tr><td a><td q><td b><td a><td a><td a><td q><td q><td w><td a><td a><td a><td p><td w><td a><td r><td w>
<tr><td c><td b><td d><td b><td b><td b><td a><td b><td b><td b><td c><td d><td w><td a><td c><td a><td d>
<tr><td p><td r><td w><td q><td w><td w><td u><td t><td r><td w><td r><td s><td s><td q><td a><td r><td q>
<tr><td c><td b><td f><td b><td b><td a><td q><td w><td a><td d><td c><td c><td s><td a><td c><td a><td c>
<tr><td a><td p><td d><td a><td a><td b><td w><td w><td r><td d><td a><td c><td w><td p><td a><td a><td w>
<tr><td a><td a><td c><td a><td w><td w><td w><td w><td a><td b><td b><td b><td q><td a><td a><td p><td w>
<tr><td b><td a><td d><td a><td b><td b><td r><td a><td a><td c><td b><td c><td p><td w><td a><td p><td a>
<tr><td b><td b><td d><td a><td b><td b><td a><td a><td a><td c><td b><td d><td a><td a><td b><td w><td c>
<tr><td t><td r><td t><td w><td w><td p><td s><td t><td t><td r><td a><td a><td w><td t><td r><td t><td s>
<tr><td x><td r><td v><td r><td u><td v><td u><td t><td v><td v><td v><td x><td r><td s><td x><td u><td u>
<tr><td s><td b><td y><td a><td s><td v><td c><td p><td u><td t><td a><td s><td a><td a><td t><td u><td u>
<tr><td w><td r><td b><td a><td a><td w><td s><td w><td q><td a><td w><td w><td q><td p><td a><td s><td r>
<tr><td a><td w><td b><td a><td a><td a><td q><td p><td w><td a><td w><td a><td p><td q><td a><td p><td w>
<tr><td a><td w><td a><td w><td a><td a><td a><td w><td w><td a><td a><td a><td p><td a><td a><td r><td a>
<tr><td v><td x><td x><td v><td v><td u><td c><td w><td t><td t><td w><td r><td r><td w><td a><td r><td u>
<tr><td r><td r><td b><td w><td q><td q><td a><td p><td w><td a><td a><td r><td s><td w><td a><td r><td r>
<tr><td b><td a><td c><td a><td b><td a><td r><td a><td a><td b><td a><td b><td r><td w><td b><td w><td a>
<tr><td a><td a><td c><td a><td a><td a><td t><td q><td w><td b><td a><td a><td p><td a><td a><td r><td w>
<tr><td p><td r><td w><td q><td w><td w><td u><td t><td r><td w><td r><td t><td s><td q><td a><td q><td q>
<tr><td s><td v><td d><td v><td r><td w><td x><td u><td t><td a><td t><td w><td w><td q><td v><td s><td x>
<tr><td q><td s><td e><td a><td a><td a><td s><td b><td q><td c><td s><td a><td s><td a><td a><td a><td u>
<tr><td v><td u><td a><td c><td a><td p><td x><td b><td b><td s><td q><td a><td s><td a><td w><td t><td u>
<tr><td q><td q><td a><td w><td a><td w><td u><td q><td p><td a><td w><td w><td q><td r><td w><td w><td s>
<tr><td w><td q><td a><td w><td w><td w><td t><td r><td r><td w><td w><td w><td p><td p><td a><td s><td w>
<tr><td q><td a><td b><td w><td w><td w><td p><td w><td w><td a><td w><td r><td w><td w><td w><td p><td p>
<tr><td a><td a><td b><td w><td a><td a><td s><td w><td w><td a><td w><td a><td s><td w><td a><td w><td w>
<tr><td b><td a><td b><td a><td a><td w><td r><td a><td a><td a><td a><td w><td q><td p><td b><td a><td a>
<tr><td w><td w><td u><td w><td w><td w><td u><td w><td a><td q><td w><td p><td w><td w><td w><td w><td w>
<tr><td a><td r><td c><td a><td a><td a><td s><td w><td w><td b><td a><td a><td s><td w><td b><td r><td r>
<tr><td b><td a><td c><td a><td b><td a><td u><td w><td w><td c><td b><td b><td q><td w><td b><td p><td b>
<tr><td p><td q><td w><td a><td a><td p><td s><td r><td s><td a><td w><td w><td w><td w><td w><td r><td q>
<tr><td a><td a><td b><td a><td b><td b><td t><td w><td p><td a><td b><td c><td p><td w><td b><td r><td s>
<tr><td a><td a><td b><td a><td a><td a><td r><td w><td w><td a><td w><td w><td r><td w><td a><td r><td q>
<tr><td a><td b><td r><td a><td a><td a><td u><td w><td a><td w><td a><td w><td a><td a><td a><td p><td a>
<tr><td a><td w><td a><td w><td w><td w><td u><td s><td w><td b><td w><td p><td r><td w><td w><td a><td s>
<tr><td w><td b><td c><td a><td b><td a><td t><td q><td q><td b><td b><td b><td s><td w><td b><td p><td a>
<tr><td b><td b><td c><td b><td c><td b><td q><td w><td a><td c><td b><td c><td w><td w><td c><td a><td b>
<tr><td b><td a><td c><td a><td a><td a><td w><td a><td a><td b><td a><td a><td p><td a><td a><td a><td b>
<tr><td a><td a><td d><td b><td a><td a><td w><td w><td q><td b><td a><td a><td p><td q><td b><td q><td w>
<tr><td a><td a><td a><td a><td b><td w><td u><td q><td p><td a><td b><td b><td a><td a><td a><td q><td a>
<tr><td c><td a><td c><td a><td b><td b><td w><td a><td a><td c><td a><td b><td r><td w><td b><td a><td b>
<tr><td w><td w><td c><td w><td w><td w><td a><td a><td w><td a><td w><td a><td r><td w><td a><td p><td w>
<tr><td w><td a><td c><td a><td a><td w><td u><td a><td a><td a><td w><td w><td s><td s><td b><td w><td w>
<tr><td s><td s><td b><td w><td q><td w><td s><td w><td r><td a><td q><td t><td q><td r><td w><td r><td t>
<tr><td d><td d><td g><td b><td c><td c><td c><td c><td d><td e><td e><td g><td w><td b><td d><td r><td e>
<tr><td a><td a><td b><td b><td a><td w><td t><td q><td p><td a><td a><td a><td p><td a><td b><td r><td a>
<tr><td a><td a><td c><td b><td b><td w><td u><td w><td a><td b><td b><td b><td w><td a><td b><td w><td a>
<tr><td w><td w><td b><td q><td a><td w><td s><td r><td s><td w><td w><td w><td s><td q><td a><td p><td w>
<tr><td w><td w><td b><td w><td w><td w><td p><td r><td q><td a><td a><td a><td q><td p><td a><td q><td w>
<tr><td w><td w><td b><td a><td a><td w><td r><td w><td w><td a><td w><td w><td w><td q><td w><td w><td q>
<tr><td a><td a><td c><td b><td a><td a><td p><td s><td q><td b><td b><td b><td w><td w><td b><td q><td a>
<tr><td a><td a><td a><td a><td a><td a><td w><td w><td w><td a><td a><td a><td w><td a><td a><td w><td a>
<tr><td a><td a><td b><td p><td a><td a><td w><td b><td b><td a><td w><td r><td r><td q><td r><td w><td a>
<tr><td a><td a><td b><td a><td a><td a><td r><td q><td w><td a><td a><td a><td a><td a><td a><td w><td a>
<tr><td a><td a><td c><td w><td a><td a><td a><td b><td b><td a><td a><td w><td q><td w><td a><td a><td a>
<tr><td a><td a><td c><td a><td b><td b><td r><td c><td b><td a><td a><td w><td s><td w><td a><td w><td a>
<tr><td a><td a><td b><td a><td a><td w><td q><td p><td w><td a><td a><td b><td a><td w><td a><td w><td a>
<tr><td a><td a><td b><td a><td a><td a><td s><td p><td p><td b><td a><td a><td w><td w><td a><td w><td w>
<tr><td a><td w><td b><td w><td w><td w><td q><td q><td r><td a><td w><td w><td q><td p><td w><td r><td q>
<tr><td w><td w><td p><td a><td a><td a><td w><td q><td p><td a><td w><td a><td w><td a><td a><td a><td w>
<tr><td p><td w><td c><td a><td w><td w><td w><td w><td w><td a><td w><td a><td w><td p><td w><td q><td r>
<tr><td c><td d><td g><td a><td c><td c><td a><td b><td b><td e><td d><td f><td a><td a><td c><td w><td e>
<tr><td a><td q><td c><td p><td w><td w><td t><td a><td a><td b><td a><td a><td p><td w><td a><td q><td q>
<tr><td b><td a><td c><td a><td b><td a><td w><td b><td b><td c><td b><td b><td p><td a><td a><td p><td a>
<tr><td a><td w><td b><td a><td a><td a><td v><td w><td w><td a><td a><td w><td q><td p><td a><td p><td q>
<tr><td b><td a><td a><td a><td b><td b><td t><td w><td a><td a><td a><td a><td w><td a><td a><td r><td a>
<tr><td b><td a><td b><td w><td a><td a><td a><td w><td w><td a><td b><td b><td w><td w><td w><td w><td a>
<tr><td a><td w><td c><td a><td b><td w><td t><td a><td a><td a><td a><td a><td s><td w><td a><td a><td a>
<tr><td w><td w><td w><td w><td w><td w><td w><td w><td w><td w><td w><td w><td w><td w><td w><td w><td w>
<tr><td a><td a><td e><td b><td w><td w><td w><td c><td b><td c><td b><td b><td t><td t><td r><td r><td a>
<tr><td a><td a><td b><td a><td a><td w><td w><td w><td w><td a><td w><td w><td p><td w><td w><td w><td p>
<tr><td s><td r><td a><td w><td r><td p><td t><td s><td t><td a><td r><td w><td p><td w><td r><td s><td t>
<tr><td p><td s><td a><td w><td q><td q><td u><td s><td w><td a><td s><td u><td r><td r><td w><td w><td u>
<tr><td a><td a><td c><td a><td a><td a><td q><td a><td a><td b><td a><td a><td w><td w><td a><td a><td a>
<tr><td a><td a><td c><td a><td b><td a><td s><td w><td a><td b><td a><td a><td a><td q><td a><td w><td a>
<tr><td w><td w><td b><td a><td a><td a><td u><td q><td w><td a><td a><td w><td w><td p><td a><td w><td w>
<tr><td w><td w><td c><td w><td a><td a><td r><td q><td q><td b><td a><td b><td w><td w><td w><td w><td w>
</table>
</body></html>
